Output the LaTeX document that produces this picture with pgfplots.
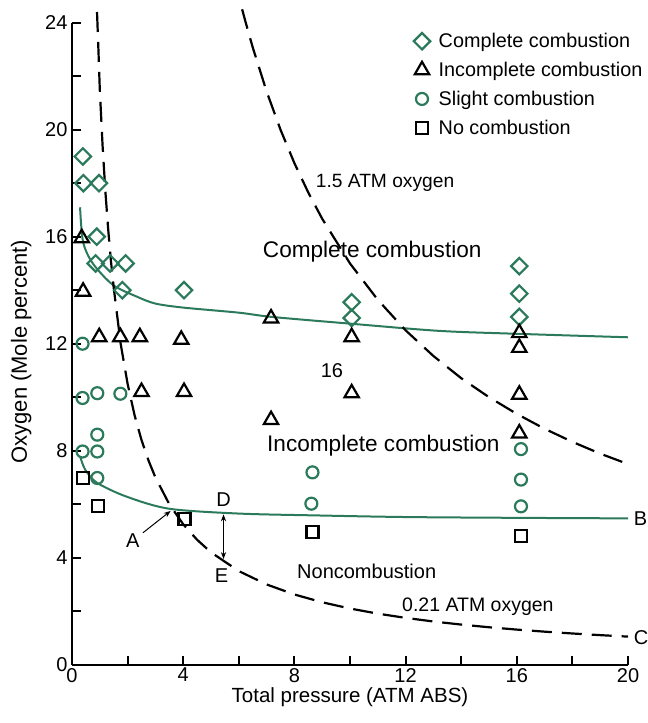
\documentclass[border=0pt]{standalone}
\usepackage{fontspec}
\setmainfont{Liberation Sans}
\usepackage{pgfplots}
\pgfplotsset{compat=1.18}
\usetikzlibrary{arrows.meta}
\definecolor{cgreen}{RGB}{44,122,92}

\begin{document}
\begin{tikzpicture}
\begin{axis}[
  name=ax,
  scale only axis, width=556pt, height=642pt,
  xmin=0, xmax=20, ymin=0, ymax=24,
  axis lines*=left,
  axis line style={line width=2pt},
  xtick={0,4,...,20}, ytick={0,4,...,24},
  minor xtick={2,6,...,18}, minor ytick={2,6,...,22},
  tick align=inside,
  major tick length=9pt, minor tick length=9pt,
  every tick/.style={black, line width=2pt},
  font=\fontsize{20}{23}\selectfont,
  /pgf/number format/assume math mode=true,
  yticklabel style={xshift=-1pt},
  xlabel={Total pressure (ATM ABS)},
  ylabel={Oxygen (Mole percent)},
  xlabel style={yshift=2pt, font=\fontsize{20.5}{23}\selectfont},
  ylabel style={yshift=7pt, xshift=-8pt, font=\fontsize{22}{25}\selectfont},
  clip=false,
  legend style={draw=none, fill=none, at={(0.609,0.99)}, anchor=north west,
                font=\fontsize{19.8}{23}\selectfont, row sep=9pt,
                nodes={inner xsep=8.5pt}},
  legend cell align=left,
]
% boundary curves
\addplot[cgreen, line width=2pt, smooth, forget plot] coordinates {
  (0.29,17.1)(0.4,15.8)(0.75,15.0)(1.47,14.2)(2.33,13.76)(3,13.5)(4,13.35)
  (6,13.16)(7.2,13.0)(10,12.75)(13.2,12.48)(16,12.37)(20,12.24)};
\addplot[cgreen, line width=2pt, smooth, forget plot] coordinates {
  (0.29,7.8)(0.47,7.3)(0.9,6.8)(1.97,6.28)(3.5,5.83)(6,5.65)(8.8,5.58)
  (12,5.52)(16,5.49)(20,5.47)};
% 0.21 ATM oxygen
\addplot[black, line width=2.2pt, dash pattern=on 20pt off 10pt, forget plot] coordinates {
  (0.9,24.4)(0.95,23.0)(1.0,21.5)(1.1,19.4)(1.2,17.7)(1.3,16.3)(1.4,15.1)
  (1.5,14.1)(1.75,12.0)(2.0,10.5)(2.25,9.33)(2.5,8.4)(2.75,7.64)(3.0,7.0)
  (3.5,6.0)(4.0,5.25)(4.5,4.67)(5.0,4.2)(6.0,3.5)(7.0,3.0)(8.0,2.625)
  (9.0,2.333)(10,2.1)(11,1.909)(12,1.75)(13,1.615)(14,1.5)(15,1.4)
  (16,1.3125)(17,1.235)(18,1.167)(19,1.105)(20,1.05)};
% 1.5 ATM oxygen
\addplot[black, line width=2.2pt, dash pattern=on 20pt off 10pt, forget plot] coordinates {
  (6.12,24.5)(6.25,24.0)(6.5,23.08)(7.0,21.43)(7.5,20.0)(8.0,18.75)(8.5,17.65)
  (9.0,16.67)(10,15.0)(11,13.64)(12,12.5)(13,11.54)(14,10.71)(15,10.0)
  (16,9.375)(17,8.82)(18,8.33)(19,7.89)(20,7.5)};

% data points
\addplot[only marks, mark=square, mark size=5.8pt, mark options={rotate=45, cgreen, line width=2.2pt}]
  coordinates {(0.39,19.0)(0.41,18.0)(0.97,18.0)(0.89,16.0)(0.85,15.0)(1.37,15.0)
  (1.93,15.0)(1.81,14.0)(4.03,14.0)(10.06,13.55)(10.06,12.96)(16.09,14.9)
  (16.09,13.87)(16.09,13.0)};
\addlegendentry{Complete combustion}
\addplot[only marks, mark=triangle, mark size=8.3pt, mark options={black, line width=2.2pt}]
  coordinates {(0.35,15.95)(0.4,13.95)(0.98,12.25)(1.74,12.25)(2.44,12.25)(3.93,12.15)
  (2.5,10.2)(4.03,10.2)(7.16,12.95)(7.16,9.15)(10.06,12.25)(10.06,10.15)
  (16.09,12.4)(16.09,11.85)(16.09,10.1)(16.09,8.65)};
\addlegendentry{Incomplete combustion}
\addplot[only marks, mark=o, mark size=6pt, mark options={cgreen, line width=2.2pt}]
  coordinates {(0.38,12.0)(0.38,9.97)(0.91,10.15)(1.74,10.13)(0.38,7.97)(0.91,7.97)
  (0.91,8.6)(0.91,6.98)(8.65,7.19)(8.61,6.02)(16.15,8.06)(16.15,6.92)(16.15,5.92)};
\addlegendentry{Slight combustion}
\addplot[only marks, mark=square, mark size=6pt, mark options={black, line width=2.2pt}]
  coordinates {(0.4,6.98)(0.94,5.92)(4.05,5.45)(8.65,4.95)(16.15,4.82)};
\addlegendentry{No combustion}

% annotations
\node[font=\fontsize{19.2}{22}\selectfont] at (axis cs:11.26,18.0) {1.5 ATM oxygen};
\node[font=\fontsize{22.6}{25}\selectfont] at (axis cs:10.8,15.44) {Complete combustion};
\node[font=\fontsize{20}{22}\selectfont] at (axis cs:9.35,11.0) {16};
\node[font=\fontsize{22.6}{25}\selectfont] at (axis cs:11.2,8.19) {Incomplete combustion};
\node[font=\fontsize{20}{22}\selectfont] at (axis cs:10.6,3.48) {Noncombustion};
\node[font=\fontsize{19.5}{22}\selectfont] at (axis cs:14.6,2.17) {0.21 ATM oxygen};
\node[font=\fontsize{20}{22}\selectfont] at (axis cs:2.19,4.64) {A};
\node[font=\fontsize{20}{22}\selectfont] at (axis cs:5.45,6.17) {D};
\node[font=\fontsize{20}{22}\selectfont] at (axis cs:5.38,3.33) {E};
\node[font=\fontsize{20}{22}\selectfont, anchor=west, inner sep=0pt] at (axis cs:20.2,5.45) {B};
\node[font=\fontsize{20}{22}\selectfont, anchor=west, inner sep=0pt] at (axis cs:20.2,1.0) {C};
\draw[line width=1pt, -{Stealth[length=7pt]}] (axis cs:2.55,4.93) -- (axis cs:3.55,5.75);
\draw[line width=1pt, {Stealth[length=7pt]}-{Stealth[length=7pt]}] (axis cs:5.45,5.62) -- (axis cs:5.45,3.95);
\end{axis}
\pgfresetboundingbox
\useasboundingbox (ax.south west) ++(-72pt,-58.3pt) rectangle ++(648pt,723pt);
\end{tikzpicture}
\end{document}
